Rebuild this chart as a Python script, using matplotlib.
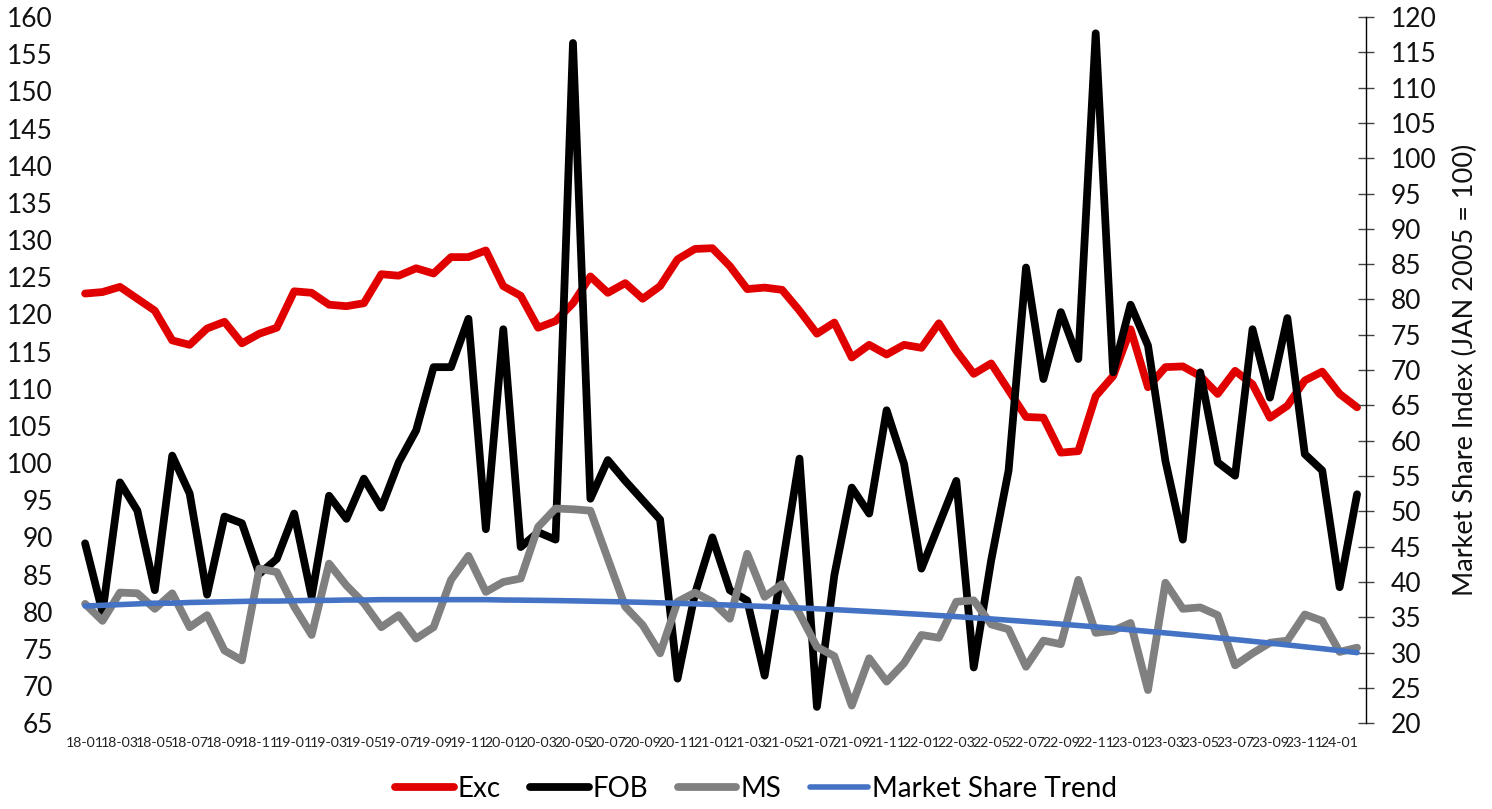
import matplotlib
matplotlib.use("Agg")
import matplotlib.pyplot as plt
import numpy as np

plt.rcParams['font.family'] = ['Lato', 'DejaVu Sans']

months = [f"{y:02d}-{m:02d}" for y in range(18, 24) for m in range(1, 13)] + ["24-01", "24-02"]

exc = [122.8, 123.0, 123.7, 122.1, 120.5, 116.5, 115.9, 118.1, 119.0, 116.1,
       117.4, 118.2, 123.1, 122.9, 121.3, 121.1, 121.5, 125.4, 125.2, 126.2,
       125.5, 127.7, 127.7, 128.6, 123.8, 122.5, 118.2, 119.1, 121.5, 125.1,
       122.9, 124.2, 122.1, 123.8, 127.4, 128.8, 128.9, 126.5, 123.4, 123.6,
       123.3, 120.5, 117.4, 118.9, 114.2, 115.9, 114.6, 115.9, 115.5, 118.8,
       115.1, 112.0, 113.4, 109.8, 106.2, 106.1, 101.4, 101.6, 109.0, 111.7,
       118.0, 110.2, 112.9, 113.0, 111.7, 109.3, 112.4, 110.6, 106.1, 107.7,
       111.1, 112.3, 109.3, 107.5]

fob = [89.2, 79.9, 97.4, 93.6, 82.9, 101.0, 95.9, 82.3, 92.8, 91.9,
       85.1, 87.1, 93.2, 82.0, 95.6, 92.5, 97.9, 94.0, 100.1, 104.4,
       112.9, 112.9, 119.4, 91.1, 118.0, 88.7, 90.7, 89.7, 156.5, 95.2,
       100.4, 97.6, 95.0, 92.4, 71.0, 82.4, 90.0, 82.9, 81.5, 71.4,
       86.0, 100.6, 67.2, 84.9, 96.7, 93.2, 107.1, 99.9, 85.8, 91.7,
       97.6, 72.5, 86.9, 99.0, 126.3, 111.3, 120.3, 114.0, 157.8, 112.2,
       121.3, 115.8, 100.3, 89.7, 112.2, 100.1, 98.3, 118.0, 108.8, 119.5,
       101.2, 99.0, 83.3, 95.8]

ms = [36.9, 34.5, 38.5, 38.4, 36.2, 38.4, 33.6, 35.3, 30.3, 28.9,
      41.9, 41.4, 36.5, 32.5, 42.6, 39.5, 37.0, 33.6, 35.3, 32.0,
      33.6, 40.3, 43.7, 38.6, 40.0, 40.5, 47.8, 50.4, 50.3, 50.1,
      43.3, 36.5, 33.9, 29.9, 37.2, 38.5, 37.2, 34.8, 44.0, 37.9,
      39.7, 35.5, 30.8, 29.5, 22.5, 29.2, 25.9, 28.5, 32.5, 32.1,
      37.2, 37.4, 34.0, 33.3, 28.0, 31.7, 31.2, 40.3, 32.8, 33.1,
      34.2, 24.7, 39.9, 36.2, 36.4, 35.3, 28.2, 29.9, 31.4, 31.7,
      35.4, 34.5, 30.1, 30.7]

trend = [36.6, 36.7, 36.8, 36.9, 37.0, 37.0, 37.1, 37.15, 37.2, 37.25,
         37.3, 37.3, 37.35, 37.4, 37.4, 37.45, 37.45, 37.5, 37.5, 37.5,
         37.5, 37.5, 37.5, 37.5, 37.45, 37.43, 37.4, 37.37, 37.33, 37.28,
         37.23, 37.18, 37.12, 37.05, 36.98, 36.9, 36.82, 36.73, 36.63, 36.54,
         36.43, 36.32, 36.21, 36.09, 35.96, 35.83, 35.70, 35.55, 35.41, 35.25,
         35.10, 34.93, 34.77, 34.59, 34.41, 34.23, 34.04, 33.84, 33.64, 33.44,
         33.23, 33.01, 32.79, 32.56, 32.33, 32.09, 31.85, 31.60, 31.35, 31.09,
         30.82, 30.56, 30.28, 30.00]

left_ticks = list(range(65, 161, 5))
right_ticks = list(range(20, 121, 5))

fig = plt.figure(figsize=(14.92, 8.09), dpi=100)
ax = fig.add_axes([0.0512, 0.106, 0.8642, 0.873])
ax2 = ax.twinx()

x = np.arange(len(months))
style = dict(solid_joinstyle='round', solid_capstyle='round')
l1, = ax.plot(x, exc, color='#E00000', lw=5.6, label='Exc', zorder=2, **style)
l2, = ax.plot(x, fob, color='#000000', lw=5.6, label='FOB', zorder=3, **style)
l3, = ax2.plot(x, ms, color='#808080', lw=5.6, label='MS', zorder=2, **style)
l4, = ax2.plot(x, trend, color='#4472C4', lw=4.0, label='Market Share Trend', zorder=3, **style)

ax.set_xlim(-0.5, len(months) - 0.5)
ax.set_ylim(65, 160)
ax2.set_ylim(20, 120)
ax.set_yticks(left_ticks)
ax2.set_yticks(right_ticks)
ax.set_xticks(x[::2])
ax.set_xticklabels(months[::2], fontsize=10.2, color='#222222')

for a in (ax, ax2):
    for s in a.spines.values():
        s.set_visible(False)
ax2.spines['right'].set_visible(True)
ax2.spines['right'].set_color('#000000')
ax2.spines['right'].set_linewidth(1.0)

ax.tick_params(axis='y', length=0, labelsize=19, pad=17, labelcolor='#111111')
ax.tick_params(axis='x', length=0, pad=10)
ax2.tick_params(axis='y', direction='inout', length=12, width=1.0, color='#444444',
                labelsize=19, pad=12, labelcolor='#111111')
ax2.set_ylabel('Market Share Index (JAN 2005 = 100)', fontsize=19.5, color='#111111', labelpad=12)

fig.legend([l1, l2, l3, l4], ['Exc', 'FOB', 'MS', 'Market Share Trend'],
           loc='center', bbox_to_anchor=(0.507, 0.025), ncol=4, frameon=False,
           fontsize=20, handlelength=2.1, columnspacing=1.05, handletextpad=0.15)

fig.savefig('out.png', dpi=100)
